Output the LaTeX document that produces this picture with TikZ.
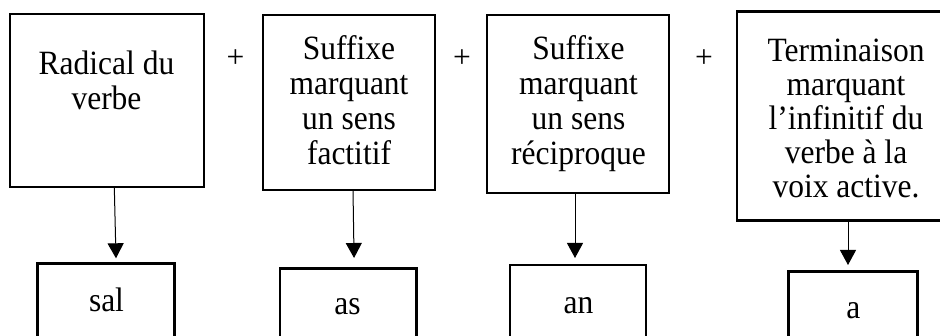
\documentclass[tikz,border=0pt]{standalone}
\usepackage{fontspec}
\setmainfont{Liberation Serif}
\usetikzlibrary{arrows.meta}
\newcommand{\vtext}[1]{\scalebox{1}[1.08]{\begin{tabular}[t]{@{}c@{}}#1\end{tabular}}}
\tikzset{
  box/.style={draw, line width=2.5pt, inner sep=0pt, outer sep=0pt, anchor=north west},
  lbl/.style={font=\fontsize{31.5}{32.4}\selectfont, inner sep=0pt, anchor=base},
  word/.style={font=\fontsize{31.5}{32.4}\selectfont, inner sep=0pt, anchor=base},
  plus/.style={font=\fontsize{31.5}{35}\selectfont, inner sep=0pt, anchor=center},
  arr/.style={line width=1pt, -{Triangle[width=16pt,length=15pt]}}
}
\begin{document}
\begin{tikzpicture}[x=1pt,y=-1pt]
\useasboundingbox (0,0) rectangle (940,336);
\clip (0,0) rectangle (940,336);
% upper boxes
\node[box, minimum width=194pt, minimum height=173pt] (b1) at (10,14) {};
\node[box, minimum width=172pt, minimum height=175pt] (b2) at (263,15) {};
\node[box, minimum width=182pt, minimum height=178pt] (b3) at (487,15) {};
\node[box, minimum width=213pt, minimum height=209pt] (b4) at (737,11.7) {};
% lower boxes
\node[box, minimum width=136.6pt, minimum height=100pt] (c1) at (37.7,263.3) {};
\node[box, minimum width=136.7pt, minimum height=100pt] (c2) at (280,268.3) {};
\node[box, minimum width=136pt, minimum height=100pt] (c3) at (510,265) {};
\node[box, minimum width=129.4pt, minimum height=100pt] (c4) at (788.3,271.7) {};
% texts
\node[lbl] (t1) at (106.5,75) {\vtext{Radical du\\verbe}};
\node[lbl] (t2) at (349,60) {\vtext{Suffixe\\marquant\\un sens\\factitif}};
\node[lbl] (t3) at (578.5,60) {\vtext{Suffixe\\marquant\\un sens\\réciproque}};
\node[lbl, font=\fontsize{31.5}{31.25}\selectfont] (t4) at (846,61.7) {\vtext{Terminaison\\marquant\\l’infinitif du\\verbe à la\\voix active.}};
\node[word] (s1) at (106.5,311.7) {\vtext{sal}};
\node[word] (s2) at (347.5,315) {\vtext{as}};
\node[word] (s3) at (578.5,313.3) {\vtext{an}};
\node[word] (s4) at (853.3,318.3) {\vtext{a}};
% plus signs
\node[plus] (p1) at (235.5,59) {+};
\node[plus] (p2) at (462,59) {+};
\node[plus] (p3) at (704,59) {+};
% arrows
\draw[arr] ([xshift=7.3pt]b1.south) -- ([xshift=10pt,yshift=5pt]c1.north);
\draw[arr] ([xshift=4pt]b2.south) -- ([xshift=5.7pt,yshift=10.3pt]c2.north);
\draw[arr] ([xshift=-3pt]b3.south) -- ([xshift=-3pt,yshift=7pt]c3.north);
\draw[arr] ([xshift=4.5pt]b4.south) -- ([xshift=-5pt,yshift=6.7pt]c4.north);
\end{tikzpicture}
\end{document}
